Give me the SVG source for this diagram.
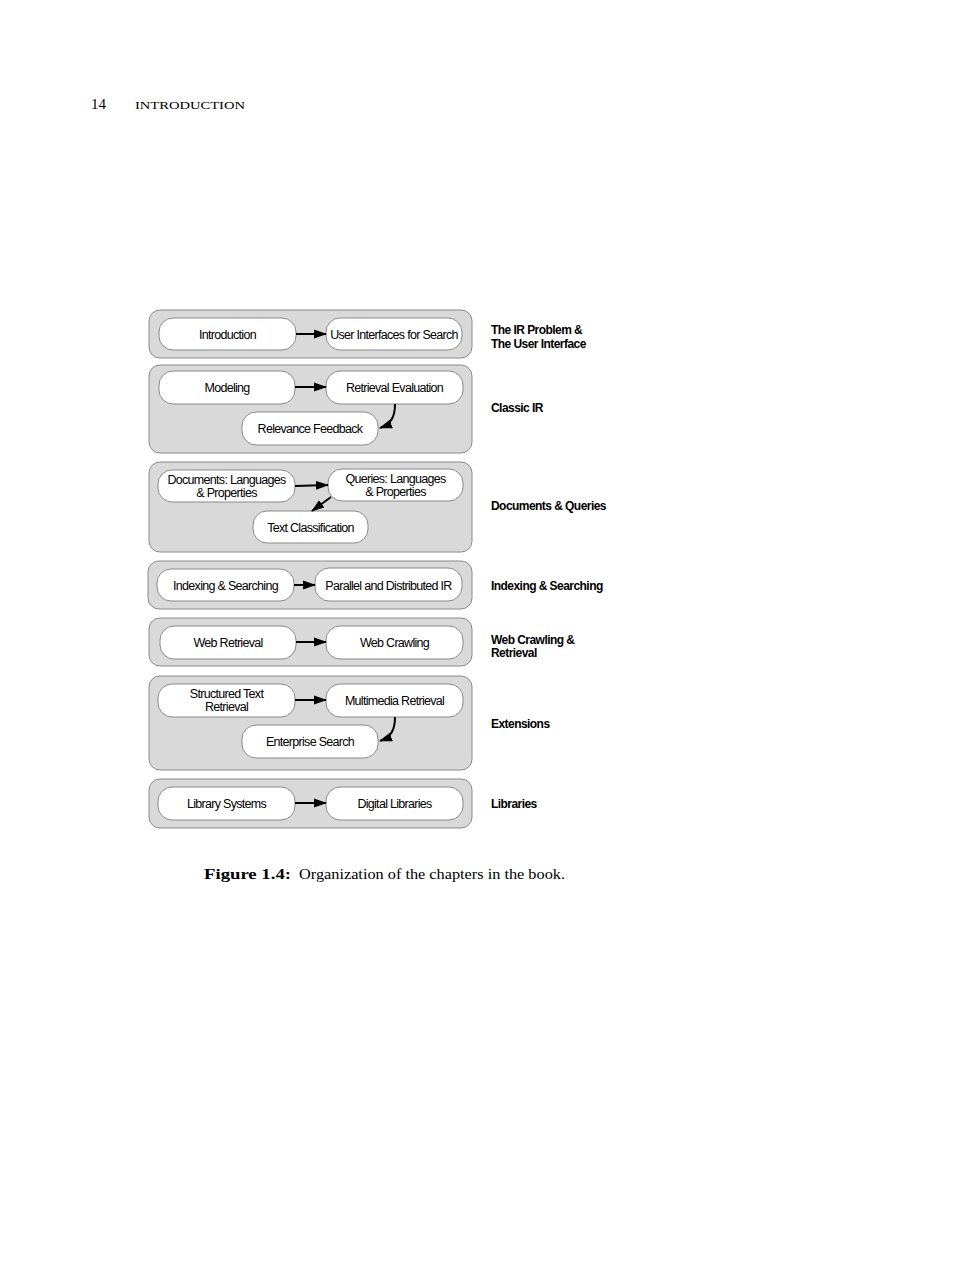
<svg xmlns="http://www.w3.org/2000/svg" width="978" height="1265" viewBox="0 0 978 1265">
<defs>
<marker id="ah" markerWidth="13" markerHeight="10" refX="12" refY="5" orient="auto" markerUnits="userSpaceOnUse">
<path d="M0,0.5 L13,5 L0,9.5 Z" fill="#000"/>
</marker>
<style>
.panel{fill:#d9d9d9;stroke:#8a8a8a;stroke-width:1}
.node{fill:#fff;stroke:#8a8a8a;stroke-width:1}
.t{font-family:"Liberation Sans",Arial,sans-serif;font-size:12.5px;fill:#000;text-anchor:middle;letter-spacing:-0.7px}
.lbl{font-family:"Liberation Sans",Arial,sans-serif;font-size:12px;font-weight:bold;fill:#000;letter-spacing:-0.55px}
.c{fill:none;stroke:#000;stroke-width:2}
.serif{font-family:"Liberation Serif","Times New Roman",serif;fill:#000}
</style>
</defs>
<rect width="978" height="1265" fill="#fff"/>
<text class="serif" x="91" y="109" font-size="15">14</text>
<text class="serif" x="135" y="109" font-size="11" textLength="110" lengthAdjust="spacingAndGlyphs">INTRODUCTION</text>

<g id="panels">
<rect class="panel" x="149" y="310" width="323" height="48" rx="11"/>
<rect class="panel" x="149" y="365" width="323" height="88" rx="11"/>
<rect class="panel" x="149" y="462" width="323" height="90" rx="11"/>
<rect class="panel" x="148" y="561" width="324" height="48" rx="11"/>
<rect class="panel" x="149" y="618" width="323" height="48" rx="11"/>
<rect class="panel" x="149" y="676" width="323" height="94" rx="11"/>
<rect class="panel" x="149" y="779" width="323" height="49" rx="11"/>
</g>

<g id="n-introduction"><rect class="node" x="159" y="318" width="137" height="32" rx="14"/><text class="t" x="227.5" y="338.5">Introduction</text></g>
<g id="n-ui"><rect class="node" x="326" y="318" width="136" height="32" rx="14"/><text class="t" x="394" y="338.5">User Interfaces for Search</text></g>

<g id="n-modeling"><rect class="node" x="159" y="371" width="136" height="33" rx="14"/><text class="t" x="227" y="391.5">Modeling</text></g>
<g id="n-reteval"><rect class="node" x="326" y="371" width="137" height="33" rx="14"/><text class="t" x="394.5" y="391.5">Retrieval Evaluation</text></g>
<g id="n-relfb"><rect class="node" x="242" y="412" width="136" height="33" rx="14"/><text class="t" x="310" y="432.5">Relevance Feedback</text></g>

<g id="n-docs"><rect class="node" x="158" y="470" width="137" height="32" rx="14"/><text class="t" x="226.5" y="484">Documents: Languages</text><text class="t" x="226.5" y="497">&amp; Properties</text></g>
<g id="n-queries"><rect class="node" x="328" y="469" width="135" height="32" rx="14"/><text class="t" x="395.5" y="483">Queries: Languages</text><text class="t" x="395.5" y="496">&amp; Properties</text></g>
<g id="n-textclass"><rect class="node" x="253" y="511" width="115" height="32" rx="14"/><text class="t" x="310.5" y="531.5">Text Classification</text></g>

<g id="n-indexing"><rect class="node" x="157" y="569" width="137" height="32" rx="14"/><text class="t" x="225.5" y="589.5">Indexing &amp; Searching</text></g>
<g id="n-parallel"><rect class="node" x="315" y="568" width="147" height="33" rx="14"/><text class="t" x="388.5" y="589.5">Parallel and Distributed IR</text></g>

<g id="n-webret"><rect class="node" x="160" y="626" width="136" height="33" rx="14"/><text class="t" x="228" y="646.5">Web Retrieval</text></g>
<g id="n-webcrawl"><rect class="node" x="326" y="626" width="137" height="33" rx="14"/><text class="t" x="394.5" y="646.5">Web Crawling</text></g>

<g id="n-structured"><rect class="node" x="158" y="684" width="137" height="33" rx="14"/><text class="t" x="226.5" y="697.5">Structured Text</text><text class="t" x="226.5" y="710.5">Retrieval</text></g>
<g id="n-multimedia"><rect class="node" x="326" y="684" width="137" height="33" rx="14"/><text class="t" x="394.5" y="704.5">Multimedia Retrieval</text></g>
<g id="n-enterprise"><rect class="node" x="242" y="725" width="136" height="33" rx="14"/><text class="t" x="310" y="745.5">Enterprise Search</text></g>

<g id="n-library"><rect class="node" x="158" y="787" width="137" height="33" rx="14"/><text class="t" x="226.5" y="807.5">Library Systems</text></g>
<g id="n-digital"><rect class="node" x="326" y="787" width="137" height="33" rx="14"/><text class="t" x="394.5" y="807.5">Digital Libraries</text></g>

<g id="connectors">
<line class="c" x1="296" y1="334" x2="326" y2="334" marker-end="url(#ah)"/>
<line class="c" x1="295" y1="387" x2="326" y2="387" marker-end="url(#ah)"/>
<path class="c" d="M395,404 C395,417 391,424 380,428" marker-end="url(#ah)"/>
<line class="c" x1="295" y1="486" x2="328" y2="485" marker-end="url(#ah)"/>
<line class="c" x1="331" y1="497" x2="312" y2="511" marker-end="url(#ah)"/>
<line class="c" x1="294" y1="585" x2="315" y2="585" marker-end="url(#ah)"/>
<line class="c" x1="296" y1="642" x2="326" y2="642" marker-end="url(#ah)"/>
<line class="c" x1="295" y1="700" x2="326" y2="700" marker-end="url(#ah)"/>
<path class="c" d="M395,717 C395,730 391,737 380,741" marker-end="url(#ah)"/>
<line class="c" x1="295" y1="803" x2="326" y2="803" marker-end="url(#ah)"/>
</g>

<g id="labels">
<text class="lbl" x="491" y="333.5">The IR Problem &amp;</text>
<text class="lbl" x="491" y="347.5">The User Interface</text>
<text class="lbl" x="491" y="411.5">Classic IR</text>
<text class="lbl" x="491" y="509.5">Documents &amp; Queries</text>
<text class="lbl" x="491" y="589.5">Indexing &amp; Searching</text>
<text class="lbl" x="491" y="643.5">Web Crawling &amp;</text>
<text class="lbl" x="491" y="656.5">Retrieval</text>
<text class="lbl" x="491" y="727.5">Extensions</text>
<text class="lbl" x="491" y="807.5">Libraries</text>
</g>

<text class="serif" x="204" y="879" font-size="15" font-weight="bold" textLength="87" lengthAdjust="spacingAndGlyphs">Figure 1.4:</text>
<text class="serif" x="299" y="879" font-size="15" textLength="266" lengthAdjust="spacingAndGlyphs">Organization of the chapters in the book.</text>
</svg>
